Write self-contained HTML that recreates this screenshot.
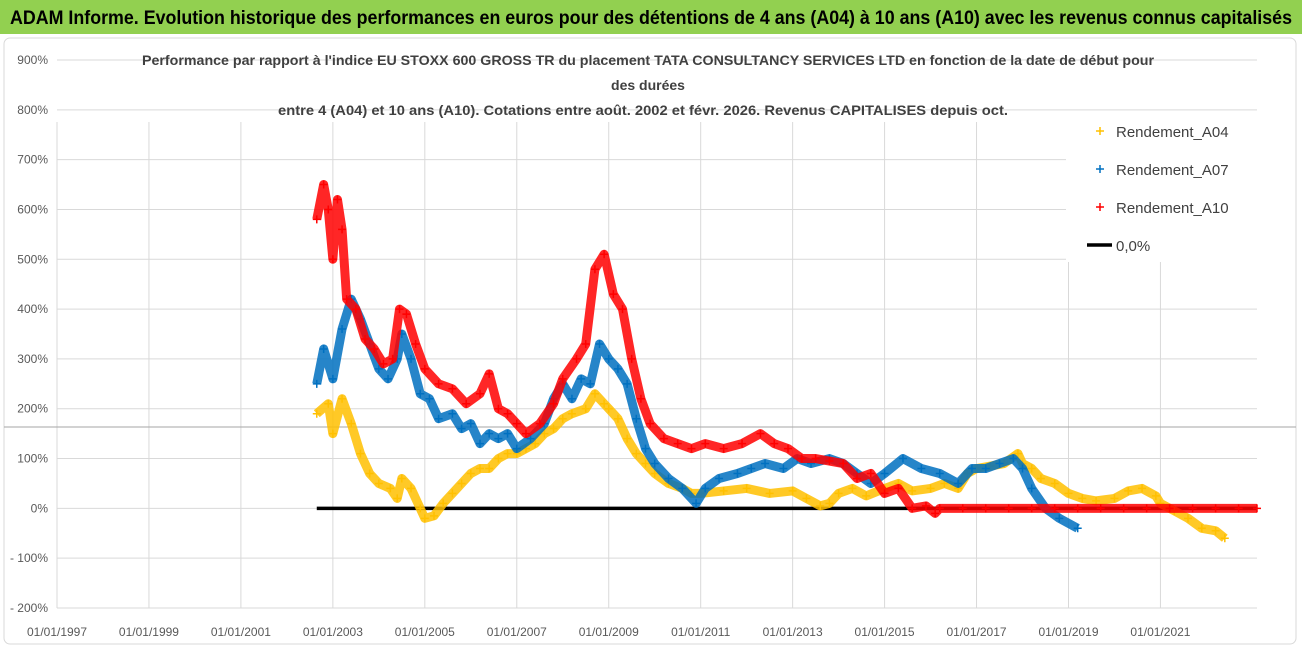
<!DOCTYPE html>
<html><head><meta charset="utf-8"><style>
body{margin:0;background:#fff}
svg{display:block;font-family:"Liberation Sans",sans-serif}
</style></head><body>
<svg id="chart" width="1302" height="647">
<rect x="0" y="0" width="1302" height="34" fill="#92d050"/>
<text x="10" y="24" font-size="19" font-weight="bold" fill="#000" textLength="1282" lengthAdjust="spacingAndGlyphs">ADAM Informe. Evolution historique des performances en euros pour des détentions de 4 ans (A04) à 10 ans (A10) avec les revenus connus capitalisés</text>
<rect x="4" y="38" width="1292" height="606" rx="6" fill="#fff" stroke="#d9d9d9"/>
<g id="grid"></g>
<line x1="4" y1="427" x2="1296" y2="427" stroke="#a6a6a6" stroke-width="1"/>
<g id="series"></g>
<g font-size="14" font-weight="bold" fill="#404040" text-anchor="middle">
<text x="648" y="65" textLength="1012" lengthAdjust="spacingAndGlyphs">Performance par rapport à l'indice EU STOXX 600 GROSS TR  du placement TATA CONSULTANCY SERVICES LTD en fonction de la date de début pour</text>
<text x="648" y="90">des durées</text>
<text x="643" y="115" textLength="730" lengthAdjust="spacingAndGlyphs">entre 4 (A04) et 10 ans (A10).  Cotations entre août. 2002 et févr. 2026. Revenus CAPITALISES depuis oct.</text>
</g>
<g id="legend">
<rect x="1066" y="112" width="196" height="150" fill="#fff"/>
</g>
</svg>
<script>
const yearTicks=[1997,1999,2001,2003,2005,2007,2009,2011,2013,2015,2017,2019,2021];
const pctTicks=[-200,-100,0,100,200,300,400,500,600,700,800,900];
const a04Dates=[2002.65,2002.9,2003.0,2003.2,2003.4,2003.6,2003.8,2004.0,2004.25,2004.4,2004.5,2004.7,2004.9,2005.0,2005.2,2005.4,2005.6,2005.8,2006.0,2006.2,2006.4,2006.6,2006.8,2007.0,2007.2,2007.4,2007.6,2007.8,2008.0,2008.2,2008.5,2008.7,2008.9,2009.0,2009.2,2009.4,2009.6,2009.8,2010.0,2010.3,2010.6,2010.8,2011.0,2011.5,2012.0,2012.5,2013.0,2013.3,2013.6,2013.8,2014.0,2014.3,2014.6,2015.0,2015.3,2015.6,2016.0,2016.3,2016.6,2016.8,2017.0,2017.3,2017.6,2017.9,2018.0,2018.2,2018.4,2018.7,2019.0,2019.3,2019.6,2020.0,2020.3,2020.6,2020.9,2021.0,2021.3,2021.6,2021.9,2022.2,2022.4];
const a04Values=[190,210,150,220,170,110,70,50,40,20,60,40,0,-20,-15,10,30,50,70,80,80,100,110,110,120,130,150,160,180,190,200,230,210,200,180,140,110,90,70,50,40,30,30,35,40,30,35,20,5,10,30,40,25,40,50,35,40,50,40,70,80,85,90,110,90,80,60,50,30,20,15,20,35,40,25,10,-5,-20,-40,-45,-60];
const a07Dates=[2002.65,2002.8,2003.0,2003.2,2003.4,2003.6,2003.8,2004.0,2004.2,2004.4,2004.5,2004.7,2004.9,2005.1,2005.3,2005.6,2005.8,2006.0,2006.2,2006.4,2006.6,2006.8,2007.0,2007.3,2007.6,2007.8,2008.0,2008.2,2008.4,2008.6,2008.8,2009.0,2009.2,2009.4,2009.6,2009.8,2010.0,2010.3,2010.6,2010.9,2011.1,2011.4,2011.8,2012.1,2012.4,2012.8,2013.1,2013.4,2013.8,2014.1,2014.4,2014.7,2015.0,2015.4,2015.8,2016.2,2016.6,2016.9,2017.2,2017.5,2017.8,2018.0,2018.2,2018.5,2018.8,2019.2];
const a07Values=[250,320,260,360,420,380,330,280,260,300,350,300,230,220,180,190,160,170,130,150,140,150,120,140,170,220,250,220,260,250,330,300,280,250,180,120,90,60,40,10,40,60,70,80,90,80,100,90,100,90,70,50,70,100,80,70,50,80,80,90,100,80,40,0,-20,-40];
const a10Dates=[2002.65,2002.8,2002.9,2003.0,2003.1,2003.2,2003.3,2003.5,2003.7,2003.9,2004.1,2004.3,2004.45,2004.6,2004.8,2005.0,2005.3,2005.6,2005.9,2006.2,2006.4,2006.6,2006.8,2007.0,2007.2,2007.5,2007.8,2008.0,2008.3,2008.5,2008.7,2008.9,2009.1,2009.3,2009.5,2009.7,2009.9,2010.2,2010.5,2010.8,2011.1,2011.5,2011.9,2012.3,2012.6,2012.9,2013.2,2013.5,2013.8,2014.1,2014.4,2014.7,2015.0,2015.3,2015.6,2015.9,2016.1,2016.2,2016.7,2017.2,2017.7,2018.2,2018.7,2019.2,2019.7,2020.2,2020.7,2021.2,2021.7,2022.2,2022.7,2023.1];
const a10Values=[580,650,600,500,620,560,420,400,340,320,290,300,400,390,330,280,250,240,210,230,270,200,190,170,150,170,210,260,300,330,480,510,430,400,300,220,170,140,130,120,130,120,130,150,130,120,100,100,95,90,60,70,30,40,0,5,-10,0,0,0,0,0,0,0,0,0,0,0,0,0,0,0];
const zeroLine=[2002.65,2023.1];
const seriesNames=["Rendement_A04","Rendement_A07","Rendement_A10"];

const NS="http://www.w3.org/2000/svg";
const X0=57,X1=1257,Y0=608,Y1=60;
const xs=y=>X0+(y-1997)*(X1-X0)/(2023.1-1997);
const ys=v=>Y0-(v+200)*(Y0-Y1)/1100;
function mk(tag,attrs,parent){const e=document.createElementNS(NS,tag);for(const k in attrs)e.setAttribute(k,attrs[k]);parent.appendChild(e);return e;}
const grid=document.getElementById('grid');
pctTicks.forEach(p=>{
  const l=mk('line',{x1:X0,x2:X1,y1:ys(p),y2:ys(p),stroke:'#d9d9d9'},grid);
  
  
  const t=mk('text',{x:48,y:ys(p)+4,'text-anchor':'end','font-size':12,fill:'#595959'},grid);
  t.textContent=(p<0?'- ':'')+Math.abs(p)+'%';
  
  
});
yearTicks.forEach(yr=>{
  const l=mk('line',{x1:xs(yr),x2:xs(yr),y1:Y1+62,y2:Y0,stroke:'#d9d9d9'},grid);
  
  
  const t=mk('text',{x:xs(yr),y:636,'text-anchor':'middle','font-size':12,fill:'#595959'},grid);
  t.textContent='01/01/'+yr;
  
  
});
const sg=document.getElementById('series');
const zl=mk('line',{x1:xs(zeroLine[0]),x2:xs(zeroLine[1]),y1:ys(0),y2:ys(0),stroke:'#000','stroke-width':3.5},sg);


const cols=['#ffc000','#0070c0','#ff0000'];
const D=[a04Dates,a07Dates,a10Dates],V=[a04Values,a07Values,a10Values];
for(let s=0;s<3;s++){
  const g=mk('g',{},sg);
  
  
  const pts=D[s].map((d,i)=>xs(d)+','+ys(V[s][i])).join(' ');
  const pl=mk('polyline',{points:pts,fill:'none',stroke:cols[s],'stroke-width':9,'stroke-linejoin':'round','stroke-opacity':0.85},g);
  
  
  D[s].forEach((d,i)=>{
    const x=xs(d),y=ys(V[s][i]);
    const m=mk('path',{d:`M${x-4},${y}h8M${x},${y-4}v8`,stroke:cols[s],'stroke-width':1.5},g);
    
    
  });
}
const lg=document.getElementById('legend');
seriesNames.forEach((n,i)=>{
  const y=131+i*38;
  const m=mk('path',{d:`M${1096},${y}h8M${1100},${y-4}v8`,stroke:cols[i],'stroke-width':1.5},lg);
  
  
  const t=mk('text',{x:1116,y:y+6,'font-size':15,fill:'#404040'},lg);
  t.textContent=n;
  
  
});
const ll=mk('line',{x1:1087,x2:1112,y1:245,y2:245,stroke:'#000','stroke-width':3.5},lg);


const lt=mk('text',{x:1116,y:251,'font-size':15,fill:'#404040'},lg);
lt.textContent='0,0%';


</script>
</body></html>
